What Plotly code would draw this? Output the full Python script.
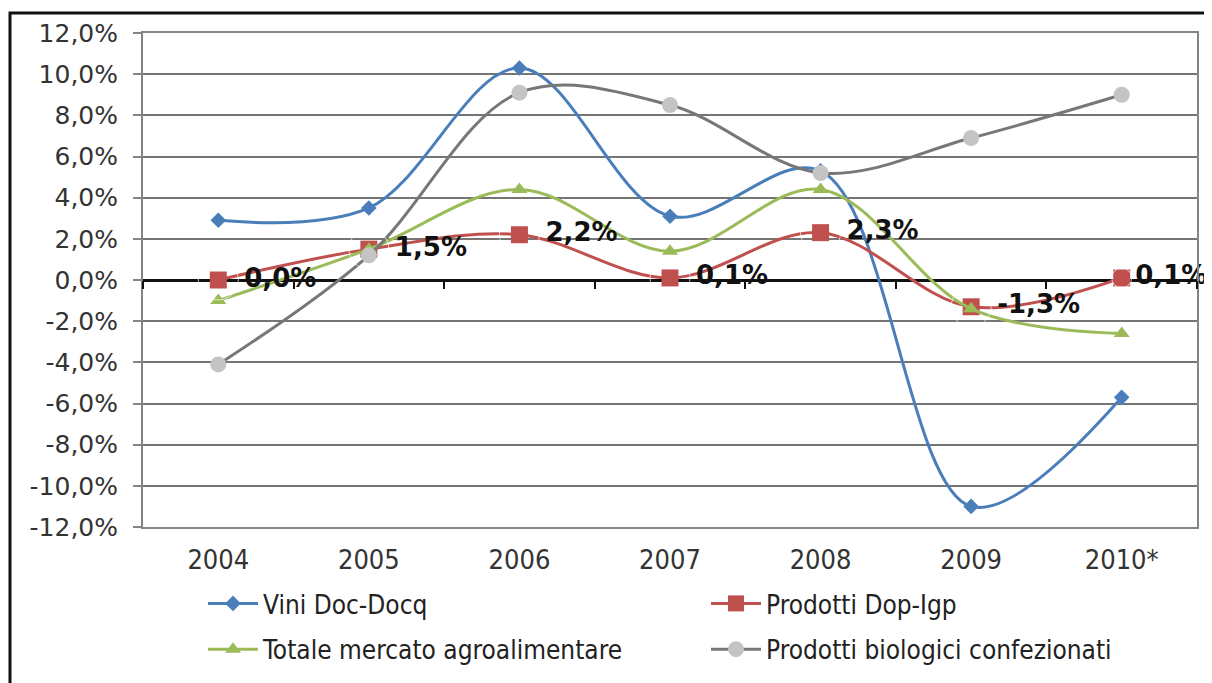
import plotly.graph_objects as go

years = ["2004", "2005", "2006", "2007", "2008", "2009", "2010*"]
vini = [2.9, 3.5, 10.3, 3.1, 5.3, -11.0, -5.7]
dop_igp = [0.0, 1.5, 2.2, 0.1, 2.3, -1.3, 0.1]
totale = [-1.0, 1.5, 4.4, 1.4, 4.4, -1.4, -2.6]
biologici = [-4.1, 1.2, 9.1, 8.5, 5.2, 6.9, 9.0]
y_ticks = [-12, -10, -8, -6, -4, -2, 0, 2, 4, 6, 8, 10, 12]


def fmt(v):
    return ("%.1f%%" % v).replace(".", ",")


y_ticktext = [fmt(v) for v in y_ticks]
dop_labels = [fmt(v) for v in dop_igp]

BLUE = "#4A7EBB"
RED = "#C0504D"
GREEN = "#9BBB59"
GREY_LINE = "#777777"
GREY_MARK = "#C4C4C4"

COND = "DejaVu Sans Condensed, Liberation Sans Narrow, DejaVu Sans"
LEG_FONT = dict(family=COND, size=26, color="#222222")

fig = go.Figure()

fig.add_trace(go.Scatter(
    x=years, y=vini, name="Vini Doc-Docq", mode="lines+markers",
    line=dict(color=BLUE, width=3, shape="spline", smoothing=1),
    marker=dict(symbol="diamond", size=12, color=BLUE),
    legend="legend", legendgroup="a",
))
fig.add_trace(go.Scatter(
    x=years, y=dop_igp, name="Prodotti Dop-Igp", mode="lines+markers",
    line=dict(color=RED, width=3, shape="spline", smoothing=1),
    marker=dict(symbol="square", size=17, color=RED),
    legend="legend2", legendgroup="b",
))
fig.add_trace(go.Scatter(
    x=years, y=totale, name="Totale mercato agroalimentare", mode="lines+markers",
    line=dict(color=GREEN, width=3, shape="spline", smoothing=1),
    marker=dict(symbol="triangle-up", size=14, color=GREEN),
    legend="legend", legendgroup="c",
))
fig.add_trace(go.Scatter(
    x=years, y=biologici, name="Prodotti biologici confezionati", mode="lines+markers",
    line=dict(color=GREY_LINE, width=3, shape="spline", smoothing=1),
    marker=dict(symbol="circle", size=16, color=GREY_MARK),
    legend="legend2", legendgroup="d",
))
# data labels for Prodotti Dop-Igp (invisible markers set the text offset)
label_gap = [40, 40, 40, 40, 40, 40, 20]
fig.add_trace(go.Scatter(
    x=years, y=dop_igp, mode="markers+text", text=dop_labels,
    textposition="middle right",
    textfont=dict(family="DejaVu Sans", size=26, color="#111111", weight="bold"),
    marker=dict(size=label_gap, color="rgba(0,0,0,0)"),
    showlegend=False, hoverinfo="skip", cliponaxis=False,
))
# helper trace for the category ticks on the zero line
fig.add_trace(go.Scatter(
    x=years, y=[0] * len(years), xaxis="x2", mode="lines",
    line=dict(color="rgba(0,0,0,0)"), showlegend=False, hoverinfo="skip",
))

# page has an 8px body margin: the figure is placed at (8, 8)
OFF = 8
W, H = 1212 - OFF, 683 - OFF
L, R, T, B = 143 - OFF, 15, 33 - OFF, 156
pw, ph = W - L - R, H - T - B


def px_x(page_x):
    return (page_x - OFF - L) / pw


def px_y(page_y):
    return 1 - (page_y - OFF - T) / ph


fig.update_layout(
    width=W, height=H,
    margin=dict(l=L, r=R, t=T, b=B, autoexpand=False),
    paper_bgcolor="white", plot_bgcolor="white",
    showlegend=True,
    xaxis=dict(
        type="category", categoryorder="array", categoryarray=years,
        range=[-0.5, 6.5], showgrid=False, zeroline=False,
        showline=True, mirror=True, linecolor="#858585", linewidth=2,
        ticks="", tickfont=dict(family=COND, size=27, color="#333333"),
        ticklabelstandoff=8,
    ),
    xaxis2=dict(
        type="category", categoryorder="array", categoryarray=years,
        range=[-0.5, 6.5], overlaying="x", anchor="free", position=0.5,
        side="bottom", showgrid=False, zeroline=False, showline=False,
        ticks="outside", ticklen=8, tickwidth=2, tickcolor="#111111",
        tickson="boundaries", showticklabels=False,
    ),
    yaxis=dict(
        range=[-12, 12], tickvals=y_ticks, ticktext=y_ticktext,
        showgrid=True, gridcolor="#757575", gridwidth=2,
        zeroline=True, zerolinecolor="#111111", zerolinewidth=3,
        showline=True, mirror=True, linecolor="#858585", linewidth=2,
        ticks="outside", ticklen=8, tickcolor="#858585", tickwidth=2,
        tickfont=dict(family="DejaVu Sans, Verdana", size=25, color="#333333"),
        ticklabelstandoff=10,
    ),
    legend=dict(
        x=px_x(203), y=px_y(580), xanchor="left", yanchor="top",
        font=LEG_FONT, itemwidth=50, tracegroupgap=9, bgcolor="rgba(0,0,0,0)",
    ),
    legend2=dict(
        x=px_x(706), y=px_y(580), xanchor="left", yanchor="top",
        font=LEG_FONT, itemwidth=50, tracegroupgap=9, bgcolor="rgba(0,0,0,0)",
    ),
    shapes=[dict(
        type="rect", xref="paper", yref="paper",
        x0=px_x(10), x1=1.1, y0=-0.5, y1=px_y(13),
        line=dict(color="#111111", width=3), fillcolor="rgba(0,0,0,0)", layer="below",
    )],
)

fig.write_html("out.html")
